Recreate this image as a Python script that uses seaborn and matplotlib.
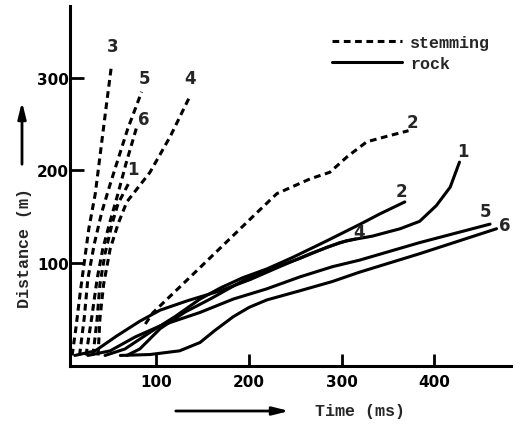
import numpy as np
import pandas as pd
import matplotlib
matplotlib.use("Agg")
import matplotlib.pyplot as plt
import seaborn as sns
from matplotlib.lines import Line2D

# ---- data (time in ms, distance in m) ----
stem3_t = [9, 13, 17.5, 22, 27, 34, 40, 45.5, 51]
stem3_d = [0, 29, 66, 100, 137, 175, 223, 267, 310]
stem5_t = [17, 22, 26, 33, 41, 50, 58.5, 69, 84]
stem5_d = [0, 40, 83, 121, 155, 185, 212, 245, 285]
stem6_t = [24, 30, 36, 42, 50, 58.5, 67, 79]
stem6_d = [0, 40, 83, 115, 145, 175, 207, 248]
stem1_t = [31.5, 36, 39, 44.5, 52, 58.5, 71]
stem1_d = [0, 40, 77, 110, 142, 164, 188]
stem4_t = [37, 39, 43, 50, 58.5, 68, 93, 115, 136]
stem4_d = [0, 40, 77, 115, 142, 166, 198, 237, 280]
stem2_t = [88, 96, 147, 208, 230, 266, 287, 306, 327, 349, 372]
stem2_d = [34, 46, 95, 154, 175, 191, 198, 215, 231, 237, 243]

rock4_t = [12, 34, 57, 82, 104, 133, 169, 201, 233, 266, 298, 315]
rock4_d = [0, 5, 21, 37, 49, 59, 70, 82, 96, 110, 122, 126]
rock2_t = [44.5, 66, 93, 120, 147, 169, 193, 219, 247, 284, 320, 341, 368]
rock2_d = [0, 7, 25, 42, 61, 73, 84, 93.5, 106, 124, 142, 153, 166]
rock1_t = [68, 82, 104, 131, 158, 183, 201, 230, 255, 284, 305, 333, 363, 384, 402, 417, 427]
rock1_d = [0, 7, 29, 47, 61, 75, 85, 96, 105, 117, 124, 129, 137, 145, 162, 182, 209]
rock5_t = [26, 50, 77, 104, 147, 183, 219, 255, 290, 319, 384, 460]
rock5_d = [0, 5, 20, 32, 46.5, 61, 72, 85, 96, 103, 122, 142]
rock6_t = [61, 93, 125, 147, 163, 183, 200, 219, 255, 290, 319, 384, 467]
rock6_d = [0, 1, 5, 14, 27, 42, 52, 60, 70, 80, 90, 110, 137]

curves = [
    ("s3", "stemming", "3", stem3_t, stem3_d),
    ("s5", "stemming", "5", stem5_t, stem5_d),
    ("s6", "stemming", "6", stem6_t, stem6_d),
    ("s1", "stemming", "1", stem1_t, stem1_d),
    ("s4", "stemming", "4", stem4_t, stem4_d),
    ("s2", "stemming", "2", stem2_t, stem2_d),
    ("r4", "rock", "4", rock4_t, rock4_d),
    ("r2", "rock", "2", rock2_t, rock2_d),
    ("r1", "rock", "1", rock1_t, rock1_d),
    ("r5", "rock", "5", rock5_t, rock5_d),
    ("r6", "rock", "6", rock6_t, rock6_d),
]

# label offsets (pixels) relative to curve ends
label_offsets = {"s3": (2, 23), "s5": (3, 14), "s6": (7, 7), "s1": (3, 13),
                 "s4": (0, 18), "s2": (4, 9), "r1": (3, 11), "r2": (-3, 11),
                 "r4": (3, 7), "r5": (-5, 13), "r6": (8, 4)}

rows = []
for cid, kind, lab, ts, ds in curves:
    for i, (t, d) in enumerate(zip(ts, ds)):
        rows.append({"curve": cid, "kind": kind, "order": i, "t": t, "d": d})
df = pd.DataFrame(rows)

sns.set_theme(style="ticks")
plt.rcParams["font.family"] = ["DejaVu Sans"]

fig = plt.figure(figsize=(5.24, 4.27), dpi=100)
ax = fig.add_axes([70/524, 1-367/427, (511-70)/524, (367-7)/427])

LW = 2.2
sns.lineplot(data=df, x="t", y="d", units="curve", style="kind",
             estimator=None, sort=False, color="black", linewidth=LW,
             dashes={"stemming": (2.2, 1.5), "rock": ""},
             style_order=["stemming", "rock"], legend=False, ax=ax)

ax.set_xlim(6.7, 482.6)
ax.set_ylim(-11.4, 377.8)
ax.set_xlabel("")
ax.set_ylabel("")
for s in ["top", "right"]:
    ax.spines[s].set_visible(False)
for s in ["left", "bottom"]:
    ax.spines[s].set_linewidth(2.2)
    ax.spines[s].set_color("black")

ax.set_xticks([100, 200, 300, 400])
ax.set_yticks([100, 200, 300])
ax.tick_params(axis="x", direction="in", length=9, width=2, pad=6,
               labelsize=11, colors="black")
ax.tick_params(axis="y", direction="in", length=10, width=2, pad=1,
               labelsize=11, colors="black")
for lbl in ax.get_xticklabels() + ax.get_yticklabels():
    lbl.set_fontweight("bold")

# curve number labels
for cid, kind, lab, ts, ds in curves:
    dx, dy = label_offsets[cid]
    ax.annotate(lab, xy=(ts[-1], ds[-1]), xytext=(dx, dy),
                textcoords="offset pixels", ha="center", va="center",
                fontsize=12, fontweight="bold", family="DejaVu Sans")

# legend
handles = [Line2D([], [], color="black", lw=LW, dashes=(2.2, 1.5)),
           Line2D([], [], color="black", lw=LW)]
leg = ax.legend(handles, ["stemming", "rock"], loc="upper left",
                bbox_to_anchor=(332/524, 1-36/427), bbox_transform=fig.transFigure,
                frameon=False, borderpad=0, borderaxespad=0,
                handlelength=4.2, handletextpad=0.5, labelspacing=0.35,
                prop={"family": "Liberation Mono", "weight": "bold", "size": 12})

# axis titles
fig.text(25/524, 1-248/427, "Distance (m)", rotation=90, ha="center", va="center",
         fontsize=12, fontweight="bold", family="Liberation Mono")
fig.text(360/524, 1-412/427, "Time (ms)", ha="center", va="center",
         fontsize=12, fontweight="bold", family="Liberation Mono")

# decorative arrows
ax.annotate("", xy=(22, 427-100), xytext=(22, 427-168), xycoords="figure pixels",
            textcoords="figure pixels",
            arrowprops=dict(arrowstyle="-|>,head_length=0.8,head_width=0.2",
                            lw=2, color="black"))
ax.annotate("", xy=(292, 427-412), xytext=(173, 427-412), xycoords="figure pixels",
            textcoords="figure pixels",
            arrowprops=dict(arrowstyle="-|>,head_length=0.8,head_width=0.2",
                            lw=2, color="black"))

fig.savefig("out.png", dpi=100, facecolor="white")
